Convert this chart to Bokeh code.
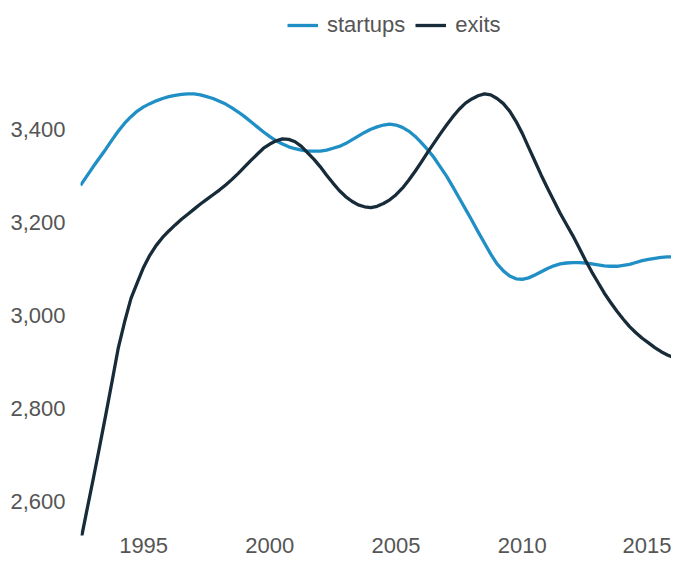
from bokeh.plotting import figure
from bokeh.models import Range1d, FixedTicker, NumeralTickFormatter, Legend, LegendItem
from bokeh.embed import file_html
from bokeh.resources import INLINE

years = [1992.5 + 0.25 * i for i in range(97)]

startups = [3280, 3300,
            3320, 3339, 3358, 3378,
            3397, 3414, 3428, 3440,
            3449, 3456, 3462, 3467,
            3471, 3474, 3476, 3477,
            3477, 3475, 3471, 3467,
            3461, 3455, 3447, 3438,
            3428, 3417, 3406, 3395,
            3385, 3376, 3369, 3363,
            3359, 3356, 3354, 3354,
            3354, 3356, 3360, 3364,
            3370, 3378, 3386, 3394,
            3401, 3406, 3410, 3412,
            3410, 3405, 3397, 3386,
            3372, 3357, 3340, 3320,
            3300, 3277, 3253, 3229,
            3205, 3180, 3156, 3132,
            3111, 3096, 3085, 3079,
            3078, 3081, 3087, 3094,
            3101, 3107, 3111, 3113,
            3114, 3114, 3113, 3111,
            3109, 3107, 3106, 3106,
            3108, 3110, 3114, 3118,
            3121, 3123, 3125, 3126,
            3126, 3125, 3123]

exits = [2512, 2580,
         2647, 2716, 2786, 2858,
         2931, 2987, 3037, 3071,
         3104, 3130, 3151, 3168,
         3182, 3195, 3207, 3218,
         3229, 3240, 3250, 3260,
         3270, 3281, 3293, 3306,
         3320, 3334, 3347, 3360,
         3369, 3376, 3380, 3379,
         3374, 3364, 3350, 3336,
         3320, 3302, 3285, 3269,
         3256, 3246, 3238, 3234,
         3232, 3235, 3241, 3249,
         3260, 3274, 3291, 3310,
         3330, 3351, 3371, 3391,
         3410, 3428, 3444, 3457,
         3466, 3473, 3477, 3475,
         3467, 3456, 3440, 3418,
         3392, 3362, 3332, 3302,
         3274, 3247, 3220, 3196,
         3172, 3146, 3119, 3094,
         3071, 3048, 3028, 3009,
         2992, 2976, 2963, 2951,
         2941, 2931, 2922, 2915,
         2909, 2903, 2898]

x_ticks = [1995, 2000, 2005, 2010, 2015]
y_ticks = [2600, 2800, 3000, 3200, 3400]

FONT = "Liberation Sans"
TXT = "#555555"
C_START = "#1f8fc5"
C_EXIT = "#172b39"

p = figure(width=671, height=563, output_backend="svg", toolbar_location=None,
           x_range=Range1d(1992.5, 2015.91), y_range=Range1d(2526.5, 3678),
           min_border_left=80, min_border_right=0, min_border_top=0,
           min_border_bottom=28)
p.outline_line_color = None
p.xgrid.grid_line_color = None
p.ygrid.grid_line_color = None

for ax in (p.xaxis[0], p.yaxis[0]):
    ax.axis_line_color = None
    ax.major_tick_line_color = None
    ax.minor_tick_line_color = None
    ax.major_tick_out = 0
    ax.major_tick_in = 0
    ax.minor_tick_out = 0
    ax.minor_tick_in = 0
    ax.major_label_text_font = FONT
    ax.major_label_text_font_size = "22px"
    ax.major_label_text_color = TXT

p.xaxis.ticker = FixedTicker(ticks=x_ticks)
p.yaxis.ticker = FixedTicker(ticks=y_ticks)
p.yaxis.formatter = NumeralTickFormatter(format="0,0")
p.yaxis.major_label_standoff = 15
p.xaxis.major_label_standoff = 2

r1 = p.line(years, startups, line_color=C_START, line_width=3.3, line_join="round")
r2 = p.line(years, exits, line_color=C_EXIT, line_width=3.3, line_join="round")

legend = Legend(items=[LegendItem(label="startups", renderers=[r1]),
                       LegendItem(label="exits", renderers=[r2])],
                orientation="horizontal", location=(207, 497),
                glyph_width=31, glyph_height=20, label_standoff=9, spacing=10,
                padding=0, margin=0, background_fill_alpha=0,
                border_line_alpha=0,
                label_text_font=FONT, label_text_font_size="22px",
                label_text_color=TXT)
p.add_layout(legend, "center")

open("out.html", "w").write(file_html(p, INLINE))
